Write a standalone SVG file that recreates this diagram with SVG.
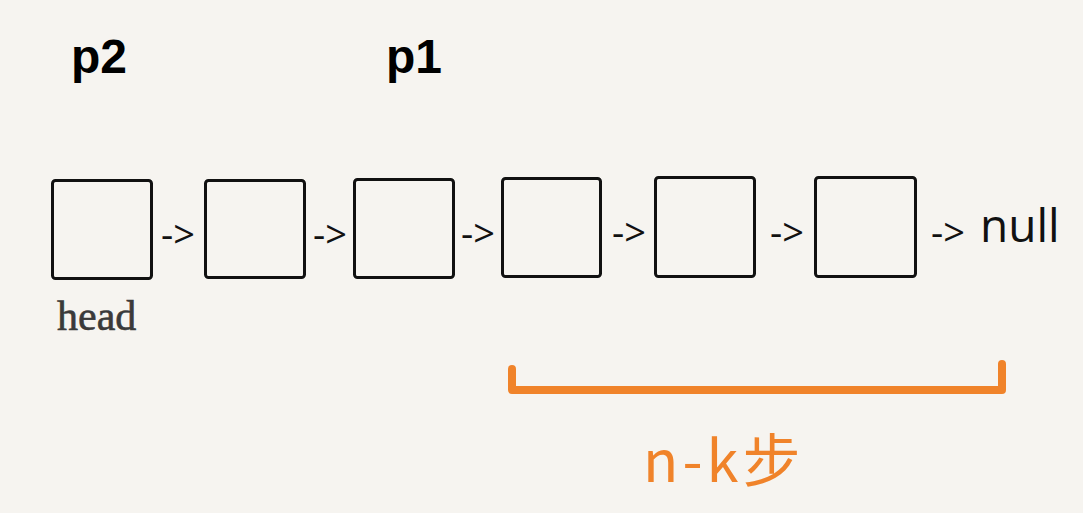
<svg xmlns="http://www.w3.org/2000/svg" width="1083" height="513" viewBox="0 0 1083 513">
<defs>
<style>
.box{fill:none;stroke:#111;stroke-width:3;}
.arr{font-family:"Open Sans","Liberation Sans",sans-serif;font-size:38px;fill:#111;}
.ptr{font-family:"Liberation Sans",Arial,sans-serif;font-weight:bold;font-size:48px;fill:#000;}
.head{font-family:"Liberation Serif","DejaVu Serif",serif;font-size:42px;fill:#3a3a3a;stroke:#3a3a3a;stroke-width:0.6;}
.hand{font-family:"Noto Sans CJK SC",sans-serif;font-size:58px;fill:#F0832A;letter-spacing:4px;}
.brace{fill:none;stroke:#F0832A;stroke-width:8;stroke-linecap:round;stroke-linejoin:round;}
</style>
</defs>
<rect width="1083" height="513" fill="#F6F4F0"/>
<g id="pointers">
<text class="ptr" x="71" y="73">p2</text>
<text class="ptr" x="386" y="73">p1</text>
</g>
<g id="node1"><rect class="box" x="52.5" y="180.5" width="99" height="98" rx="3"/></g>
<g id="node2"><rect class="box" x="205.5" y="180.5" width="99" height="97" rx="3"/></g>
<g id="node3"><rect class="box" x="354.5" y="179.5" width="99" height="98" rx="3"/></g>
<g id="node4"><rect class="box" x="502.5" y="178.5" width="98" height="98" rx="3"/></g>
<g id="node5"><rect class="box" x="655.5" y="177.5" width="99" height="99" rx="3"/></g>
<g id="node6"><rect class="box" x="815.5" y="177.5" width="100" height="99" rx="3"/></g>
<g id="head-label"><text class="head" x="57" y="330">head</text></g>
<g id="connectors">
<text class="arr" x="161" y="248">-&gt;</text>
<text class="arr" x="313" y="248">-&gt;</text>
<text class="arr" x="461" y="247">-&gt;</text>
<text class="arr" x="612" y="246">-&gt;</text>
<text class="arr" x="770" y="246">-&gt;</text>
<text class="arr" x="931" y="246">-&gt;</text>
<text x="980" y="242" font-family="'Open Sans','Liberation Sans',sans-serif" font-size="46" fill="#111">null</text>
</g>
<g id="span">
<path class="brace" d="M512,369 L512,390 L1002,390 L1002,364"/>
<text class="hand" x="643" y="482">n-k步</text>
</g>
</svg>
